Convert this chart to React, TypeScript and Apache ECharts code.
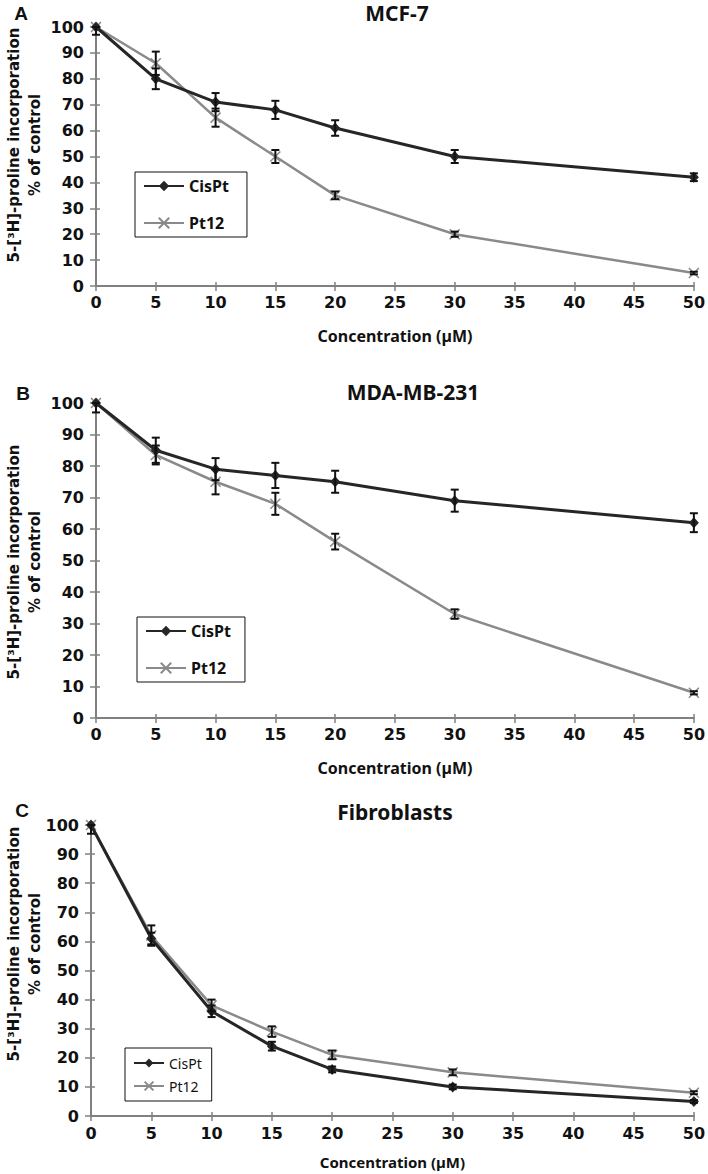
import React, { useEffect, useRef } from "react";
import * as echarts from "echarts";

const concentrations = [0, 5, 10, 15, 20, 30, 50];
const xTicks = { min: 0, max: 50, interval: 5 };
const yTicks = { min: 0, max: 100, interval: 10 };

const panelTitles = ["MCF-7", "MDA-MB-231", "Fibroblasts"];
const panelLetters = ["A", "B", "C"];
const seriesNames = ["CisPt", "Pt12"];

const mcfCisPt = [100, 80, 71, 68, 61, 50, 42];
const mcfCisPtErr = [3, 4, 3.5, 3.5, 3, 2.5, 1.5];
const mcfPt12 = [100, 86, 65, 50, 35, 20, 5];
const mcfPt12Err = [0, 4.5, 3.5, 2.5, 1.5, 1, 0.5];

const mdaCisPt = [100, 85, 79, 77, 75, 69, 62];
const mdaCisPtErr = [3, 4, 3.5, 4, 3.5, 3.5, 3];
const mdaPt12 = [100, 83.5, 75, 68, 56, 33, 8];
const mdaPt12Err = [0, 3, 4, 3.5, 2.5, 1.5, 0.5];

const fibCisPt = [100, 61, 36, 24, 16, 10, 5];
const fibCisPtErr = [3, 2, 2, 1.5, 1, 0.8, 0.5];
const fibPt12 = [100, 62, 38, 29, 21, 15, 8];
const fibPt12Err = [0, 3.5, 2, 1.8, 1.5, 1, 0.5];

const panelData = [
  { cis: mcfCisPt, cisErr: mcfCisPtErr, pt: mcfPt12, ptErr: mcfPt12Err },
  { cis: mdaCisPt, cisErr: mdaCisPtErr, pt: mdaPt12, ptErr: mdaPt12Err },
  { cis: fibCisPt, cisErr: fibCisPtErr, pt: fibPt12, ptErr: fibPt12Err },
];

const grids = [
  { left: 96, top: 27, width: 601, height: 259 },
  { left: 96, top: 403, width: 601, height: 315 },
  { left: 91, top: 825, width: 606, height: 291 },
];

const CIS_COLOR = "#262626";
const PT_COLOR = "#8a8a8a";
const AXIS_COLOR = "#808080";
const TEXT_COLOR = "#111";

function errorRender(params: any, api: any) {
  const x = api.value(0);
  const lo = api.coord([x, api.value(1)]);
  const hi = api.coord([x, api.value(2)]);
  if (Math.abs(lo[1] - hi[1]) < 0.5) return { type: "group", children: [] };
  const w = 4;
  const style = { stroke: "#111", lineWidth: 2 };
  return {
    type: "group",
    children: [
      { type: "line", shape: { x1: lo[0], y1: lo[1], x2: hi[0], y2: hi[1] }, style },
      { type: "line", shape: { x1: lo[0] - w, y1: lo[1], x2: lo[0] + w, y2: lo[1] }, style },
      { type: "line", shape: { x1: hi[0] - w, y1: hi[1], x2: hi[0] + w, y2: hi[1] }, style },
    ],
  };
}

function errData(vals: number[], errs: number[]) {
  return concentrations.map((c, j) => [c, Math.max(0, vals[j] - errs[j]), Math.min(100, vals[j] + errs[j])]);
}

export default function App() {
  const ref = useRef<HTMLDivElement>(null);
  useEffect(() => {
    if (!ref.current) return;
    const chart = echarts.init(ref.current, null, { renderer: "svg" });

    const xAxis: any[] = [];
    const yAxis: any[] = [];
    const series: any[] = [];
    grids.forEach((g, i) => {
      const labelMargin = i === 2 ? 9 : 8;
      xAxis.push({
        type: "value",
        gridIndex: i,
        ...xTicks,
        name: "Concentration (µM)",
        nameLocation: "middle",
        nameGap: i === 2 ? 37 : 41,
        nameTextStyle: { fontFamily: "Noto Sans", fontWeight: "bold", fontSize: i === 2 ? 15 : 16, lineHeight: 18, color: TEXT_COLOR },
        axisLine: { show: true, lineStyle: { color: AXIS_COLOR, width: 2 } },
        axisTick: { show: true, length: 5, lineStyle: { color: AXIS_COLOR, width: 1.5 } },
        axisLabel: { fontFamily: "DejaVu Sans", fontWeight: "bold", fontSize: 16, color: TEXT_COLOR, margin: labelMargin },
        splitLine: { show: false },
      });
      xAxis.push({
        type: "value",
        gridIndex: i,
        ...xTicks,
        position: "bottom",
        axisLine: { show: false },
        axisTick: { show: true, inside: true, length: 4, lineStyle: { color: AXIS_COLOR, width: 1.5 } },
        axisLabel: { show: false },
        splitLine: { show: false },
      });
      yAxis.push({
        type: "value",
        gridIndex: i,
        ...yTicks,
        axisLine: { show: true, lineStyle: { color: AXIS_COLOR, width: 2 } },
        axisTick: { show: true, length: 6, lineStyle: { color: AXIS_COLOR, width: 1.5 } },
        axisLabel: { fontFamily: "DejaVu Sans", fontWeight: "bold", fontSize: 16, color: TEXT_COLOR, margin: 12 },
        splitLine: { show: false },
      });
      yAxis.push({
        type: "value",
        gridIndex: i,
        ...yTicks,
        position: "left",
        axisLine: { show: false },
        axisTick: { show: true, inside: true, length: 4, lineStyle: { color: AXIS_COLOR, width: 1.5 } },
        axisLabel: { show: false },
        splitLine: { show: false },
      });

      const d = panelData[i];
      series.push({
        type: "line",
        name: seriesNames[0],
        xAxisIndex: 2 * i,
        yAxisIndex: 2 * i,
        data: concentrations.map((c, j) => [c, d.cis[j]]),
        symbol: "diamond",
        symbolSize: [10, 11],
        lineStyle: { color: CIS_COLOR, width: 3 },
        itemStyle: { color: CIS_COLOR },
        z: 3,
      });
      series.push({
        type: "line",
        name: seriesNames[1],
        xAxisIndex: 2 * i,
        yAxisIndex: 2 * i,
        data: concentrations.map((c, j) => [c, d.pt[j]]),
        symbol: "path://M0,0L10,10M10,0L0,10",
        symbolSize: 10,
        lineStyle: { color: PT_COLOR, width: 2.5 },
        itemStyle: { color: PT_COLOR, borderColor: PT_COLOR, borderWidth: 1.5 },
        z: 2,
      });
      series.push({
        type: "custom",
        xAxisIndex: 2 * i,
        yAxisIndex: 2 * i,
        data: errData(d.cis, d.cisErr),
        renderItem: errorRender,
        encode: { x: 0, y: [1, 2] },
        silent: true,
        z: 4,
      });
      series.push({
        type: "custom",
        xAxisIndex: 2 * i,
        yAxisIndex: 2 * i,
        data: errData(d.pt, d.ptErr),
        renderItem: errorRender,
        encode: { x: 0, y: [1, 2] },
        silent: true,
        z: 4,
      });
    });

    const legendBase = {
      data: seriesNames,
      orient: "vertical",
      selectedMode: false,
      borderColor: "#111",
      borderWidth: 1,
      backgroundColor: "#fff",
    };
    const legends = [
      {
        ...legendBase, left: 135, top: 172, itemWidth: 40, itemHeight: 13, itemGap: 21, padding: [6, 18, 6, 8],
        textStyle: { fontFamily: "Noto Sans", fontWeight: "bold", fontSize: 16, lineHeight: 16, color: TEXT_COLOR },
      },
      {
        ...legendBase, left: 137, top: 617, itemWidth: 40, itemHeight: 13, itemGap: 21, padding: [6, 14, 6, 8],
        textStyle: { fontFamily: "Noto Sans", fontWeight: "bold", fontSize: 16, lineHeight: 16, color: TEXT_COLOR },
      },
      {
        ...legendBase, left: 125, top: 1048, itemWidth: 30, itemHeight: 11, itemGap: 9, padding: [8, 10, 8, 8],
        textStyle: { fontFamily: "Noto Sans", fontSize: 14, lineHeight: 14, color: TEXT_COLOR },
      },
    ];

    const titlePos = [
      [397, 13],
      [413, 392],
      [395, 812],
    ];
    const letterPos = [
      [21, 13],
      [23, 393],
      [22, 810],
    ];
    const yNameCenters = [145, 562, 944];

    const graphic: any[] = [];
    panelTitles.forEach((t, i) => {
      graphic.push({
        type: "text",
        x: titlePos[i][0],
        y: titlePos[i][1],
        style: {
          text: t,
          textAlign: "center",
          textVerticalAlign: "middle",
          font: "bold 21px 'Noto Sans'",
          fill: TEXT_COLOR,
        },
      });
      graphic.push({
        type: "text",
        x: letterPos[i][0],
        y: letterPos[i][1],
        style: {
          text: panelLetters[i],
          textAlign: "center",
          textVerticalAlign: "middle",
          font: "bold 19px 'Liberation Sans'",
          fill: TEXT_COLOR,
        },
      });
      graphic.push({
        type: "text",
        x: 14,
        y: yNameCenters[i],
        rotation: Math.PI / 2,
        style: {
          text: "5-[³H]-proline incorporation",
          textAlign: "center",
          textVerticalAlign: "middle",
          font: "bold 15px 'DejaVu Sans'",
          fill: TEXT_COLOR,
        },
      });
      graphic.push({
        type: "text",
        x: 35,
        y: yNameCenters[i],
        rotation: Math.PI / 2,
        style: {
          text: "% of control",
          textAlign: "center",
          textVerticalAlign: "middle",
          font: "bold 15px 'DejaVu Sans'",
          fill: TEXT_COLOR,
        },
      });
    });

    chart.setOption({
      animation: false,
      backgroundColor: "#fff",
      grid: grids.map((g) => ({ ...g, containLabel: false })),
      xAxis,
      yAxis,
      legend: legends,
      series,
      graphic,
    });
    return () => chart.dispose();
  }, []);

  return (
    <div
      ref={ref}
      style={{ position: "absolute", left: 0, top: 0, width: 708, height: 1174, background: "#fff" }}
    />
  );
}
